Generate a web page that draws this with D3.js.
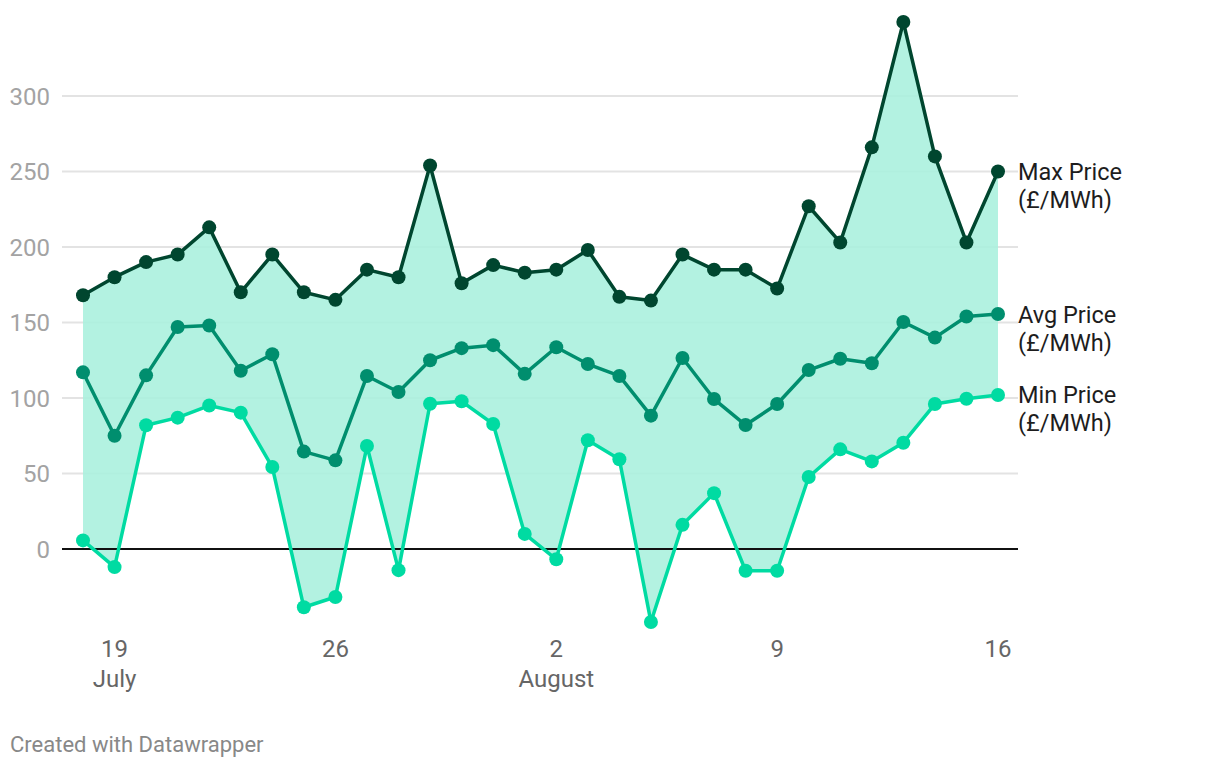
<!DOCTYPE html>
<html>
<head>
<meta charset="utf-8">
<script src="https://cdn.jsdelivr.net/npm/d3@7"></script>
<style>
  html, body { margin: 0; padding: 0; background: #fff; }
  svg { display: block; font-family: Roboto, "Noto Sans", sans-serif; }
</style>
</head>
<body>
<svg id="chart" width="1220" height="768"></svg>
<script>
// ---- data ----
const startDate = "2022-07-18";
const maxPrice = [168, 180, 190, 195, 213, 170, 195, 170, 165, 185, 180, 254, 176, 188, 183, 185, 198, 167, 164.5, 195, 185, 185, 172.5, 227, 203, 266, 349, 260, 203, 250];
const avgPrice = [117, 75, 115, 147, 148, 118, 129, 64.5, 58.7, 114.6, 104, 125, 133, 135, 116, 133.6, 122.5, 114.6, 88.3, 126.5, 99.3, 82.1, 96, 118.5, 126, 123, 150.3, 140, 154, 155.6];
const minPrice = [5.7, -12, 82, 87, 95, 90.3, 54.3, -38.6, -31.8, 68.2, -14, 96.2, 97.8, 82.8, 10, -6.8, 72, 59.4, -48.3, 16, 37, -14.4, -14.4, 47.7, 66, 58, 70.4, 96, 99.5, 102];
const yTicks = [0, 50, 100, 150, 200, 250, 300];
const xTickDates = ["2022-07-19", "2022-07-26", "2022-08-02", "2022-08-09", "2022-08-16"];
const monthLabels = { "2022-07-19": "July", "2022-08-02": "August" };
const seriesNames = ["Max Price", "Avg Price", "Min Price"];
const unitLabel = "(£/MWh)";

// ---- setup ----
const parse = d3.timeParse("%Y-%m-%d");
const start = parse(startDate);
const dates = maxPrice.map((_, i) => d3.timeDay.offset(start, i));
const rows = dates.map((d, i) => ({ date: d, max: maxPrice[i], avg: avgPrice[i], min: minPrice[i] }));

const svg = d3.select("#chart");
const x = d3.scaleTime().domain([dates[0], dates[dates.length - 1]]).range([83, 998]);
const y = d3.scaleLinear().domain([0, 300]).range([549, 96]);
const gridLeft = 62, gridRight = 1018;

const colors = { max: "#00462f", avg: "#008e6e", min: "#00dba2", fill: "#a9f0dd" };

// grid
svg.append("g").selectAll("line").data(yTicks.filter(t => t !== 0)).join("line")
  .attr("x1", gridLeft).attr("x2", gridRight)
  .attr("y1", d => y(d)).attr("y2", d => y(d))
  .attr("stroke", "#e3e3e3").attr("stroke-width", 2);

// y labels
svg.append("g").selectAll("text").data(yTicks).join("text")
  .attr("x", 50).attr("y", d => y(d)).attr("dy", "0.36em")
  .attr("text-anchor", "end").attr("fill", "#a3a3a3")
  .style("font-size", "24px").text(d => d);

// area between min and max
svg.append("path").datum(rows)
  .attr("fill", colors.fill).attr("fill-opacity", 0.88)
  .attr("d", d3.area().x(d => x(d.date)).y0(d => y(d.min)).y1(d => y(d.max)));

// zero line
svg.append("line").attr("x1", gridLeft).attr("x2", gridRight)
  .attr("y1", y(0)).attr("y2", y(0)).attr("stroke", "#111").attr("stroke-width", 2);

// lines + dots
[["min", colors.min], ["avg", colors.avg], ["max", colors.max]].forEach(([k, c]) => {
  svg.append("path").datum(rows)
    .attr("fill", "none").attr("stroke", c).attr("stroke-width", 3.5)
    .attr("stroke-linejoin", "round")
    .attr("d", d3.line().x(d => x(d.date)).y(d => y(d[k])));
  svg.append("g").selectAll("circle").data(rows).join("circle")
    .attr("cx", d => x(d.date)).attr("cy", d => y(d[k])).attr("r", 7)
    .attr("fill", c);
});

// x axis labels
const xg = svg.append("g");
xTickDates.forEach(s => {
  const d = parse(s);
  xg.append("text").attr("x", x(d)).attr("y", 657).attr("text-anchor", "middle")
    .attr("fill", "#666").style("font-size", "24px").text(d3.timeFormat("%-d")(d));
  if (monthLabels[s]) {
    xg.append("text").attr("x", x(d)).attr("y", 687).attr("text-anchor", "middle")
      .attr("fill", "#666").style("font-size", "24px").text(monthLabels[s]);
  }
});

// series labels
const last = rows[rows.length - 1];
const labelYs = [y(last.max), y(last.avg), y(last.min)];
seriesNames.forEach((n, i) => {
  const t = svg.append("text").attr("y", labelYs[i] + 8.5)
    .attr("fill", "#1d1d1d").style("font-size", "23.5px");
  t.append("tspan").attr("x", 1018).text(n);
  t.append("tspan").attr("x", 1018).attr("dy", 28).text(unitLabel);
});

// footer
svg.append("text").attr("x", 10).attr("y", 752).attr("fill", "#888")
  .style("font-size", "22px").text("Created with Datawrapper");
</script>
</body>
</html>
